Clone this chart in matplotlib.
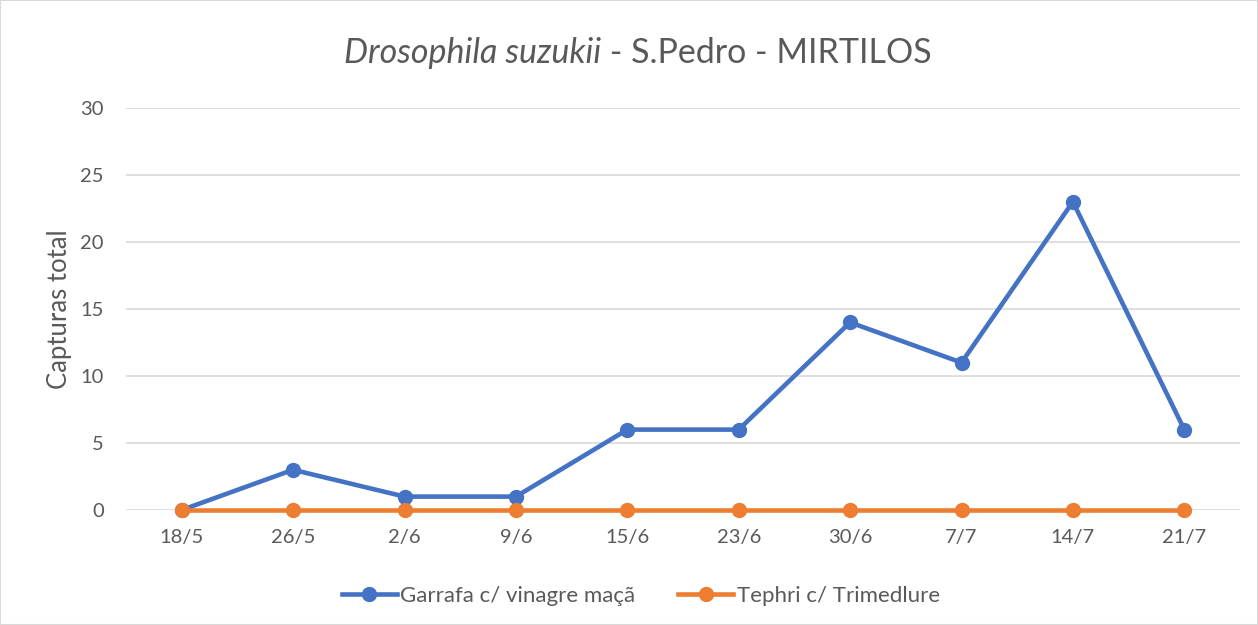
import numpy as np
import matplotlib.pyplot as plt

datas = ['18/5', '26/5', '2/6', '9/6', '15/6', '23/6', '30/6', '7/7', '14/7', '21/7']
garrafa = [0, 3, 1, 1, 6, 6, 14, 11, 23, 6]
tephri = [0, 0, 0, 0, 0, 0, 0, 0, 0, 0]

plt.rcParams['font.family'] = ['Lato', 'DejaVu Sans']
cinza = '#595959'
azul = '#4472C4'
laranja = '#ED7D31'

fig = plt.figure(figsize=(12.58, 6.25), dpi=100)
ax = fig.add_axes([126/1258, 1-510/625, (1240-126)/1258, (510-108)/625])

x = np.arange(len(datas))
ax.plot(x, garrafa, color=azul, lw=3.3, marker='o', ms=10, label='Garrafa c/ vinagre maçã',
        zorder=3, clip_on=False)
ax.plot(x, tephri, color=laranja, lw=3.3, marker='o', ms=10, label='Tephri c/ Trimedlure',
        zorder=4, clip_on=False)

ax.set_xlim(-0.5, len(datas)-0.5)
ax.set_ylim(0, 30)
ax.set_yticks(range(0, 31, 5))
ax.set_xticks(x)
ax.set_xticklabels(datas)
ax.tick_params(length=0, labelsize=14.5, colors=cinza)
ax.tick_params(axis='x', pad=14)
ax.tick_params(axis='y', pad=16)
ax.grid(axis='y', color='#D9D9D9', lw=1.2)
ax.set_axisbelow(True)
for s in ax.spines.values():
    s.set_visible(False)
ax.set_ylabel('Capturas total', fontsize=18.5, color=cinza, labelpad=6)

leg = ax.legend(loc='center', bbox_to_anchor=(0.462, 1-(596-108)/402), ncol=2, frameon=False,
                fontsize=16, handlelength=2.5, handletextpad=0.15, columnspacing=1.9)
for t in leg.get_texts():
    t.set_color(cinza)

# titulo com parte em italico
t1 = fig.text(0, 1-53/625, 'Drosophila suzukii', fontsize=24.5, style='italic', color=cinza, va='center')
t2 = fig.text(0, 1-53/625, ' - S.Pedro - MIRTILOS', fontsize=24.5, color=cinza, va='center')
r = fig.canvas.get_renderer()
w1 = t1.get_window_extent(r).width
w2 = t2.get_window_extent(r).width
x0 = 638 - (w1 + w2) / 2
t1.set_x(x0/1258)
t2.set_x((x0 + w1)/1258)

fig.patches.append(plt.Rectangle((0, 0), 1, 1, transform=fig.transFigure, fill=False,
                                 edgecolor='#D9D9D9', lw=1.5))
fig.savefig('out.png', dpi=100)
